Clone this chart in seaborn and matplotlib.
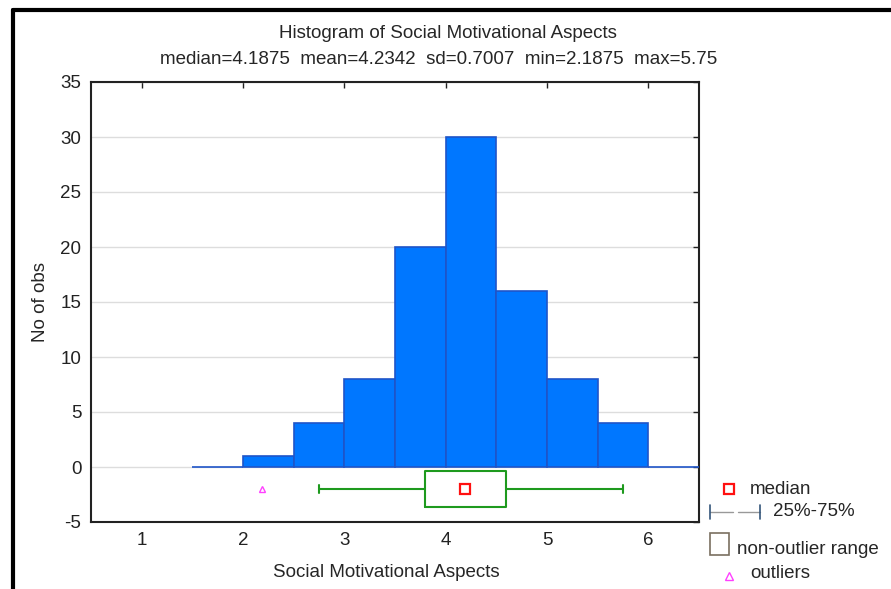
import matplotlib
matplotlib.use("Agg")
import matplotlib.pyplot as plt
from matplotlib.lines import Line2D
from matplotlib.patches import Rectangle
import numpy as np
import seaborn as sns

# histogram bins (width 0.5) and counts
bin_edges = [1.5, 2.0, 2.5, 3.0, 3.5, 4.0, 4.5, 5.0, 5.5, 6.0, 6.5]
counts = [0, 1, 4, 8, 20, 30, 16, 8, 4, 0]

# box plot summary
q1, q3 = 3.8, 4.6
whisker_lo, whisker_hi = 2.75, 5.75
median = 4.1875
outliers = [2.1875]

title = "Histogram of Social Motivational Aspects"
subtitle = "median=4.1875  mean=4.2342  sd=0.7007  min=2.1875  max=5.75"

sns.set_theme(style="white")
plt.rcParams['font.family'] = ['Liberation Sans', 'DejaVu Sans']
FS = 13.5

W, H = 891, 589
fig = plt.figure(figsize=(W / 100, H / 100), dpi=100)
ax = fig.add_axes([91 / W, 1 - 522 / H, (699 - 91) / W, (522 - 82) / H])

centers = [(a + b) / 2 for a, b in zip(bin_edges[:-1], bin_edges[1:])]
sns.histplot(x=centers, weights=counts, bins=bin_edges, ax=ax,
             color='#0077FF', edgecolor='#1F55C8', linewidth=1.2, alpha=1,
             zorder=3)

# box plot under the histogram
stats = [dict(med=median, q1=q1, q3=q3, whislo=whisker_lo, whishi=whisker_hi,
              fliers=outliers)]
green = '#1E9A1E'
ax.bxp(stats, positions=[-2], widths=3.3, orientation='horizontal',
       showfliers=False, capwidths=0.7,
       boxprops=dict(color=green, linewidth=1.5),
       whiskerprops=dict(color=green, linewidth=1.5),
       capprops=dict(color=green, linewidth=1.5),
       medianprops=dict(linewidth=0))
ax.plot([median], [-2], 's', mfc='none', mec='#FF1010', ms=7, mew=1.6, zorder=5)
ax.plot(outliers, [-2] * len(outliers), '^', mfc='none', mec='#FF40FF',
        ms=5, mew=1, zorder=5)

ax.set_xlim(0.5, 6.5)
ax.set_ylim(-5, 35)
ax.set_xticks([1, 2, 3, 4, 5, 6])
ax.set_yticks(np.arange(-5, 36, 5))
ax.set_yticklabels([str(v) for v in range(-5, 36, 5)])
ax.yaxis.grid(True, color='#DDDDDD', linewidth=1)
ax.set_axisbelow(True)
for s in ax.spines.values():
    s.set_color('#222222')
    s.set_linewidth(1.5)
ax.tick_params(direction='in', length=4, width=1, top=True, right=True,
               labelsize=FS, colors='#222222', pad=7)
ax.set_xlabel('Social Motivational Aspects', fontsize=FS, labelpad=14)
ax.xaxis.set_label_coords(0.485, -0.095)
ax.set_ylabel('No of obs', fontsize=FS, labelpad=8)

fig.text(448 / W, 1 - 33 / H, title, ha='center', va='center', fontsize=FS)
fig.text(439 / W, 1 - 60 / H, subtitle, ha='center', va='center', fontsize=FS)

# legend drawn in pixel coordinates
lg = fig.add_axes([690 / W, 0, (W - 690) / W, 119 / H])
lg.set_xlim(690, W)
lg.set_ylim(H, H - 119)
lg.axis('off')
lg.plot([729], [489], 's', mfc='none', mec='#FF1010', ms=7, mew=1.6)
lg.text(750, 489, 'median', va='center', fontsize=FS)
lg.plot([710, 733], [512, 512], color='#999999', lw=1)
lg.plot([738, 760], [512, 512], color='#999999', lw=1)
lg.plot([710, 710], [505, 519], color='#33557A', lw=1.2)
lg.plot([760, 760], [505, 519], color='#33557A', lw=1.2)
lg.text(773, 512, '25%-75%', va='center', fontsize=FS)
lg.add_patch(Rectangle((710, 533), 19, 22, fill=False, edgecolor='#7A7060', lw=1.2))
lg.text(737, 550, 'non-outlier range', va='center', fontsize=FS)
lg.plot([729], [576], '^', mfc='none', mec='#FF40FF', ms=5.5, mew=1)
lg.text(750, 574, 'outliers', va='center', fontsize=FS)

# outer frame (partially visible)
fig.add_artist(Line2D([13 / W, 13 / W], [0, 1 - 10 / H], color='black', lw=3,
                      transform=fig.transFigure))
fig.add_artist(Line2D([13 / W, 1], [1 - 10 / H, 1 - 10 / H], color='black', lw=3,
                      transform=fig.transFigure))

fig.savefig('out.png', dpi=100)
